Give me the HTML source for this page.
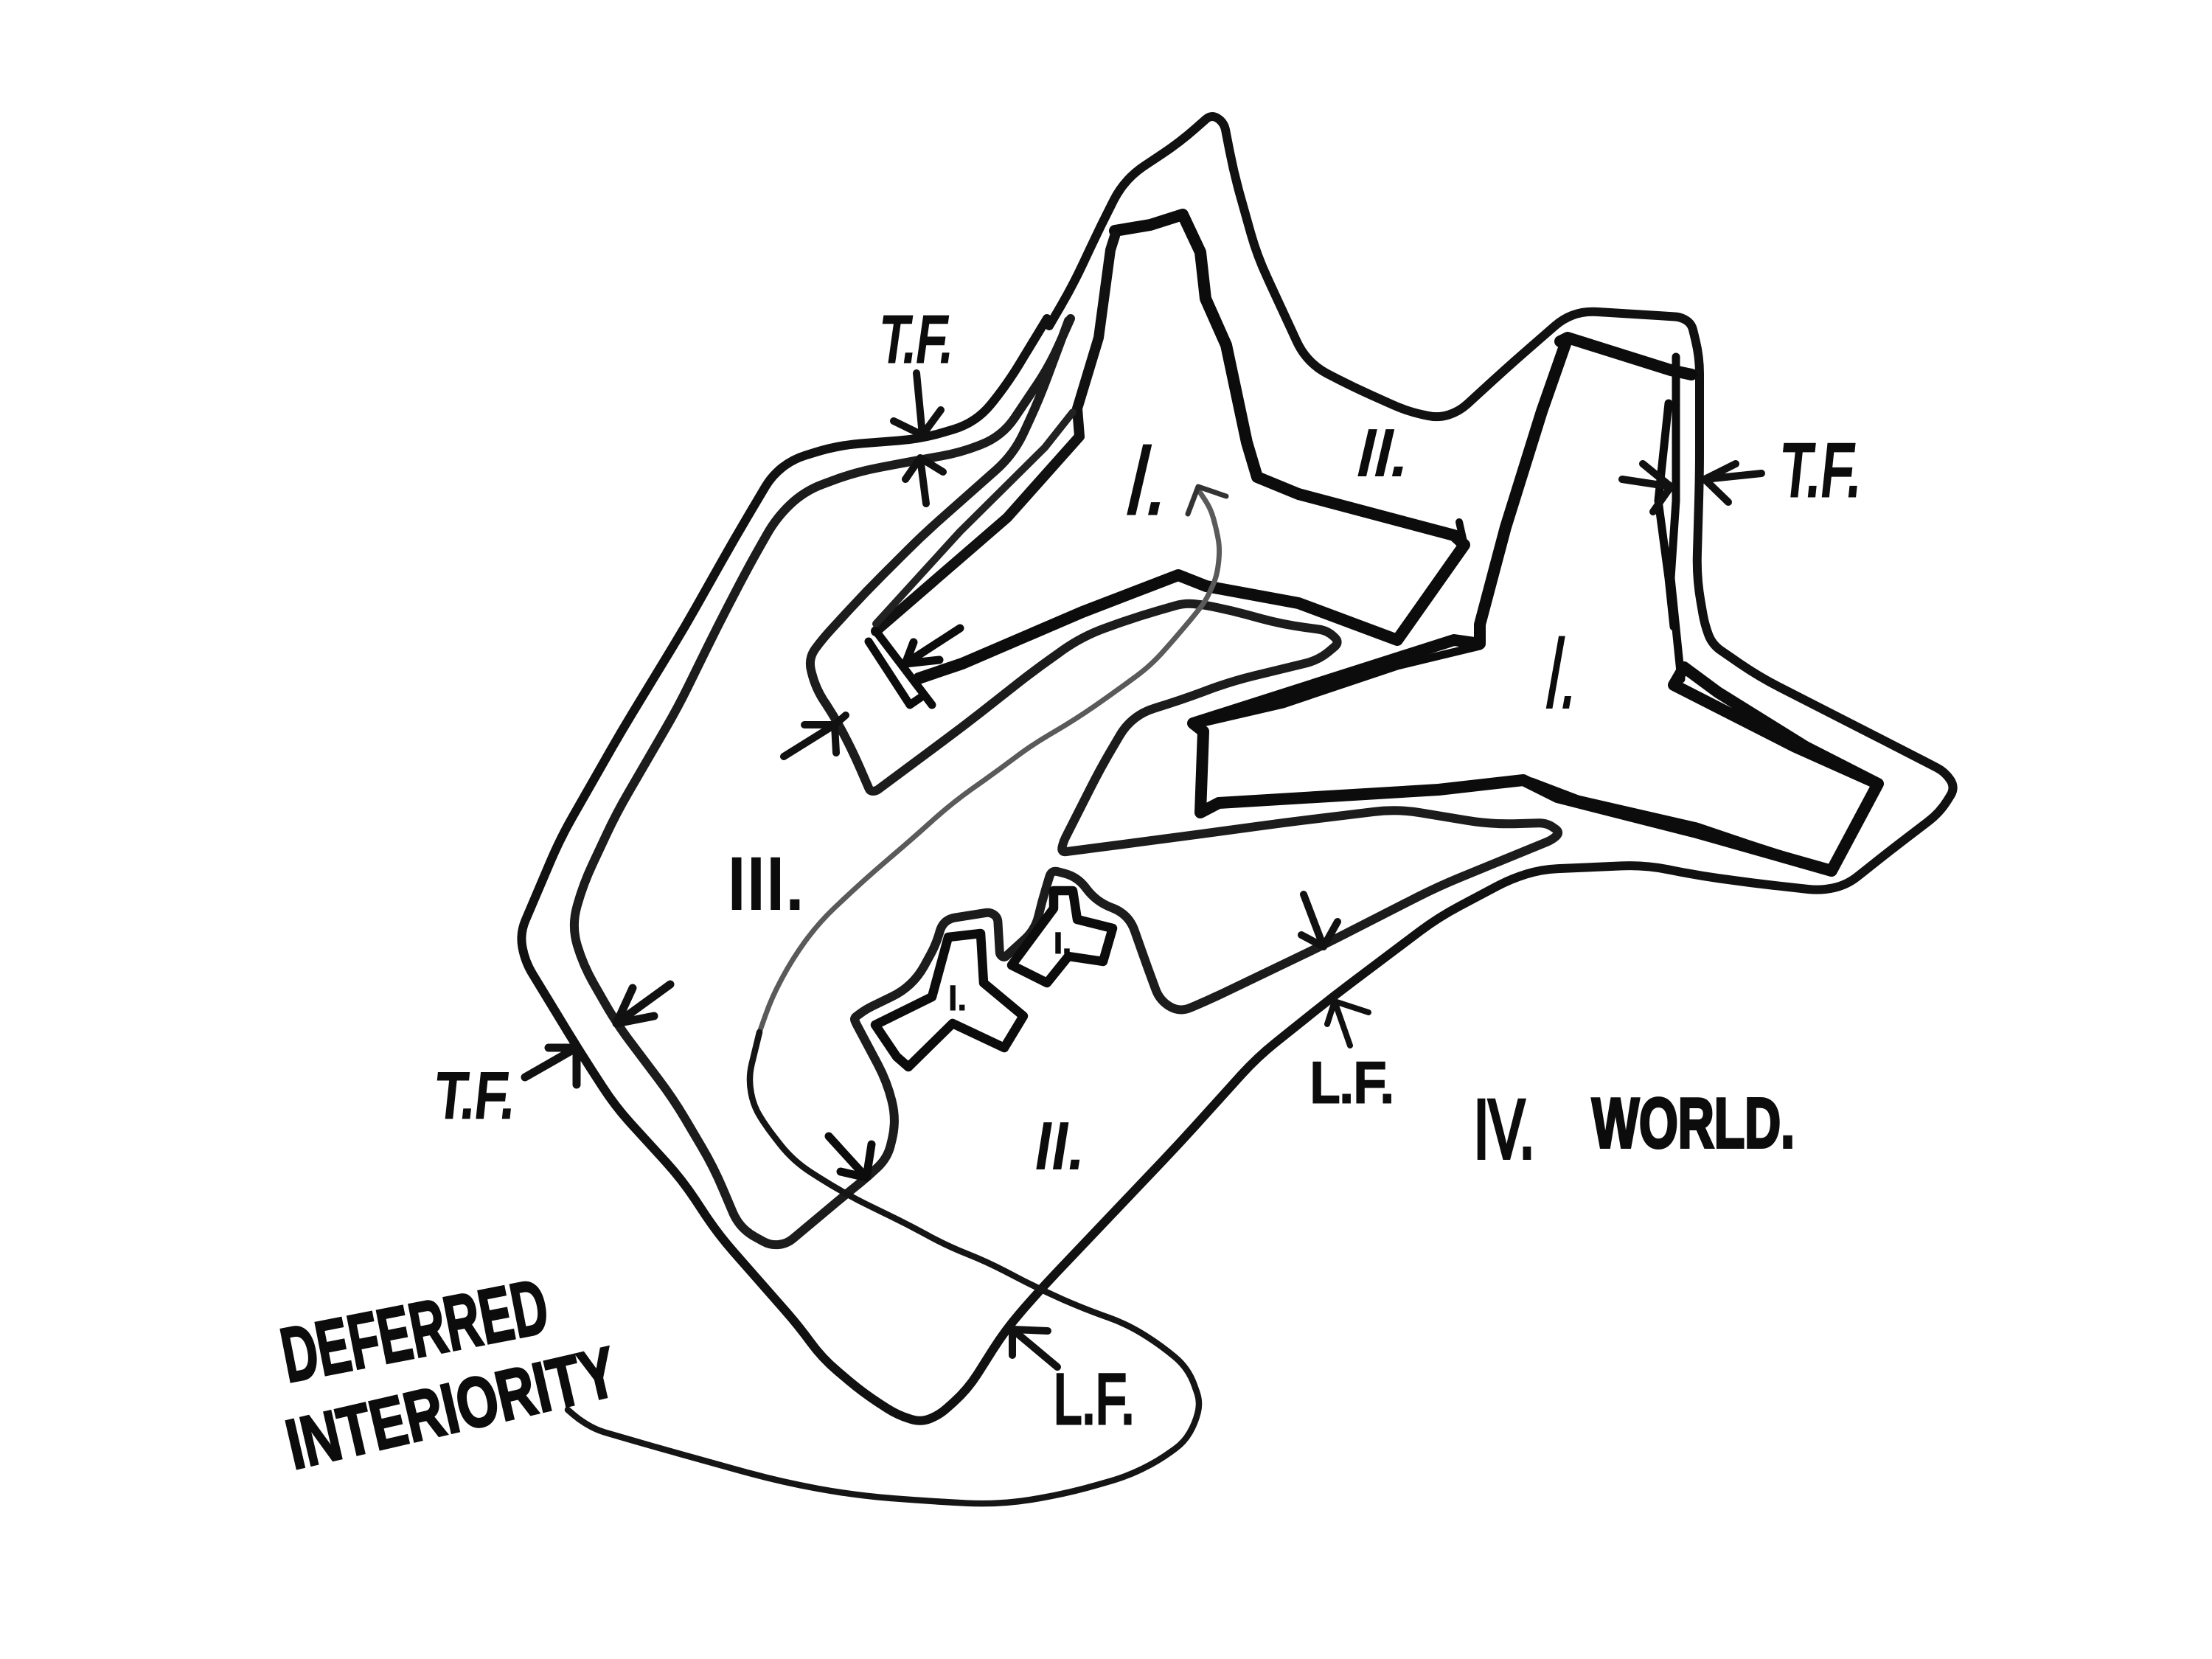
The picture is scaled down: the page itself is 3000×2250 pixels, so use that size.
<!DOCTYPE html>
<html lang="en">
<head>
<meta charset="utf-8">
<title>Deferred Interiority</title>
<style>
html,body{margin:0;padding:0;background:#fff;}
svg{display:block;}
path{fill:none;stroke-linejoin:round;stroke-linecap:round;}
text{font-family:"Liberation Sans",sans-serif;font-weight:400;fill:#0c0c0c;stroke:#0c0c0c;stroke-width:3px;}
text.b{font-weight:700;}
</style>
</head>
<body>
<svg xmlns="http://www.w3.org/2000/svg" width="3000" height="2250" viewBox="0 0 3000 2250">
<rect width="3000" height="2250" fill="#fff"/>

<!-- outer contour -->
<path class="s" stroke="#111" stroke-width="12" d="M1423,442 L1455,387 1493,306 1525,243 1600,193 1643,155 1660,166 1674,237 1705,347 1737,416 1772,492 1831,523 1909,558 1951,567 1979,558 2049,494 2133,421 2217,426 2280,430 2294,439 2305,484 2305,642 2301,784 2312,847 2322,874 2386,918 2582,1018 2638,1047 2652,1068 2631,1102 2568,1150 2505,1200 2470,1208 2372,1197 2301,1187 2231,1173 2091,1179 2049,1192 1951,1244 1810,1350 1705,1434 1600,1550 1411,1749 1364,1803 1312,1885 1274,1919 1249,1929 1217,1919 1172,1890 1115,1842 1083,1798 974,1674 925,1600 834,1500 785,1424 712,1304 705,1266 760,1137 842,993 929,850 996,731 1047,645 1075,623 1136,604 1251,595 1324,573 1366,521 1420,432"/>

<!-- second contour -->
<path class="s" stroke="#1c1c1c" stroke-width="12" d="M1452,432 L1423,497 1359,592 1302,614 1251,623 1161,640 1091,666 1053,702 1015,769 973,850 919,960 836,1103 791,1199 775,1256 791,1309 836,1388 913,1490 968,1583 1003,1666 1045,1689 1067,1687 1147,1620 1178,1595 1204,1570 1216,1519 1203,1467 1161,1388 1158,1381 1174,1369 1238,1338 1270,1280 1279,1247 1343,1237 1353,1244 1356,1295 1362,1299 1404,1261 1413,1223 1426,1180 1461,1189 1487,1223 1531,1240 1557,1314 1573,1357 1600,1373 1642,1355 1796,1281 1951,1202 2105,1139 2116,1129 2098,1116 2021,1118 1895,1097 1740,1116 1600,1135 1439,1156 1442,1142 1493,1041 1535,970 1600,950 1670,924 1789,895 1817,871 1800,855 1740,847 1670,828 1631,820 1606,818 1540,837 1468,863 1407,906 1305,986 1188,1073 1180,1073 1157,1020 1134,976 1106,933 1096,893 1116,866 1174,803 1251,726 1375,616 1410,540 1449,435"/>

<!-- inner shape I, top -->
<path stroke="#0c0c0c" stroke-width="16" d="M1512,313 L1560,305 1604,291 1628,342 1635,405 1663,468 1691,600 1705,647 1761,670 1972,726 1986,739 1895,868 1761,818 1636,795 1598,780 1468,830 1305,900 1246,920"/>
<path stroke="#0c0c0c" stroke-width="10" d="M1979,708 L1986,739"/>
<path stroke="#111" stroke-width="14" d="M1512,320 L1506,339 1490,458 1461,554 1464,592 1366,702 1188,856"/>
<path stroke="#222" stroke-width="10" d="M1455,559 L1417,607 1302,721 1188,846"/>
<path stroke="#0c0c0c" stroke-width="11" d="M1178,870 L1234,956 1250,945 M1188,856 L1264,956"/>

<!-- inner shape I, right -->
<path stroke="#0c0c0c" stroke-width="16" d="M2116,463 L2126,458 2266,502 2294,508 M2126,458 L2091,558 2042,715 2007,847 2007,873 1972,868 1618,981 1632,992 1628,1102 1653,1089 1951,1071 2066,1058 2112,1081 2301,1129 2484,1181 2547,1063 2449,1013 2330,939 2284,905 2270,929 2435,1013 2547,1063"/>
<path stroke="#0c0c0c" stroke-width="11" d="M1632,980 L1740,955 1895,903 2007,876 M2077,1060 L2140,1084 2301,1121 2372,1145 2484,1181 M2273,484 L2273,679 2266,784 2280,921 M2263,547 L2249,679 2263,784 2270,850"/>

<!-- small shapes -->
<path stroke="#0c0c0c" stroke-width="12.5" d="M1187,1390 L1264,1352 1286,1271 1330,1266 1334,1333 1340,1338 1388,1378 1362,1421 1292,1388 1232,1447 1216,1433 1187,1390"/>
<path stroke="#0c0c0c" stroke-width="12.5" d="M1429,1208 L1455,1208 1461,1247 1509,1259 1496,1304 1449,1297 1420,1333 1372,1309 1429,1232 1429,1208"/>

<!-- long thin curve -->
<path class="c" stroke="#5a5a5a" stroke-width="7" d="M1625,664 L1642,690 1649,715 1654,740 1653,763 1649,785 1635,815 1621,833 1590,870 1560,903 1510,940 1458,976 1400,1010 1356,1043 1290,1090 1238,1137 1170,1195 1110,1252 1075,1300 1047,1352 1030,1400"/>
<path class="c" stroke="#151515" stroke-width="8.5" d="M1030,1400 L1015,1462 1022,1500 1040,1529 1076,1575 1147,1620 1230,1660 1285,1690 1338,1711 1411,1749 1470,1775 1529,1796 1575,1825 1612,1856 1628,1902 1621,1930 1606,1956 1570,1982 1529,2002 1450,2025 1357,2041 1260,2036 1159,2028 1060,2010 955,1981 880,1960 808,1939 785,1925 770,1912"/>

<!-- arrows -->
<path stroke="#111" stroke-width="10" d="M1243,506 L1251,590 M1212,571 L1251,590 1276,556"/>
<path stroke="#111" stroke-width="10" d="M1256,683 L1248,621 M1228,650 L1248,621 1279,640"/>
<path stroke="#111" stroke-width="10" d="M2389,642 L2312,650 M2354,629 L2312,650 2344,681"/>
<path stroke="#111" stroke-width="10" d="M2200,650 L2266,660 M2228,629 L2266,660 2242,694"/>
<path stroke="#0c0c0c" stroke-width="11" d="M1302,852 L1228,900 M1239,871 L1228,900 1274,895"/>
<path stroke="#111" stroke-width="10" d="M1063,1026 L1132,983 M1091,983 L1132,983 1134,1021 M1132,983 L1147,970"/>
<path stroke="#111" stroke-width="11" d="M712,1461 L782,1421 M744,1421 L782,1421 782,1471"/>
<path stroke="#111" stroke-width="11" d="M909,1335 L836,1388 M858,1340 L836,1388 887,1378"/>
<path stroke="#0c0c0c" stroke-width="11" d="M1124,1541 L1175,1597 M1182,1552 L1175,1597 1140,1589"/>
<path stroke="#111" stroke-width="10" d="M1768,1213 L1795,1284 M1765,1268 L1795,1284 1814,1250"/>
<path stroke="#111" stroke-width="8" d="M1831,1418 L1810,1358 M1800,1389 L1810,1358 1856,1373"/>
<path stroke="#111" stroke-width="10" d="M1434,1854 L1373,1803 M1421,1805 L1373,1803 1373,1838"/>
<path stroke="#333" stroke-width="7" d="M1611,697 L1625,660 1663,673"/>

<!-- labels -->
<text transform="translate(1190,490) skewX(-8)" font-size="87" textLength="100" lengthAdjust="spacingAndGlyphs" style="stroke-width:5px">T.F.</text>
<text transform="translate(2412,672) skewX(-6)" font-size="100" textLength="110" lengthAdjust="spacingAndGlyphs" style="stroke-width:5px">T.F.</text>
<text transform="translate(588,1515) skewX(-6)" font-size="85" textLength="108" lengthAdjust="spacingAndGlyphs" style="stroke-width:5px">T.F.</text>
<text x="1777" y="1494" font-size="75" textLength="114" lengthAdjust="spacingAndGlyphs" style="stroke-width:5px">L.F.</text>
<text x="1429" y="1930" font-size="95" textLength="110" lengthAdjust="spacingAndGlyphs" style="stroke-width:5px">L.F.</text>
<text x="986" y="1232" font-size="97" textLength="105" lengthAdjust="spacingAndGlyphs" style="stroke-width:4px">III.</text>
<text transform="translate(1836,644) skewX(-13)" font-size="87" textLength="70" lengthAdjust="spacingAndGlyphs" style="stroke-width:4px">II.</text>
<text transform="translate(1400,1584) skewX(-9)" font-size="87" textLength="68" lengthAdjust="spacingAndGlyphs" style="stroke-width:4px">II.</text>
<text transform="translate(1520,697) skewX(-13)" font-size="135" textLength="58" lengthAdjust="spacingAndGlyphs" style="stroke-width:3px">I.</text>
<text transform="translate(2090,960) skewX(-10)" font-size="140" textLength="45" lengthAdjust="spacingAndGlyphs" style="stroke-width:2px">I.</text>
<text x="1286" y="1369" font-size="45" textLength="25" lengthAdjust="spacingAndGlyphs" style="stroke-width:3px">I.</text>
<text x="1429" y="1292" font-size="38" textLength="24" lengthAdjust="spacingAndGlyphs" style="stroke-width:3px">I.</text>
<text x="1999" y="1570" font-size="112" textLength="82" lengthAdjust="spacingAndGlyphs" style="stroke-width:6px">IV.</text>
<text class="b" x="2159" y="1556" font-size="96" textLength="275" lengthAdjust="spacingAndGlyphs" style="stroke-width:4px">WORLD.</text>
<text class="b" transform="translate(390,1875) rotate(-11)" font-size="105" textLength="365" lengthAdjust="spacingAndGlyphs" style="stroke-width:3px">DEFERRED</text>
<text class="b" transform="translate(398,1993) rotate(-13)" font-size="96" textLength="455" lengthAdjust="spacingAndGlyphs" style="stroke-width:3px">INTERIORITY</text>
</svg>
<script>
document.querySelectorAll('path.s,path.c').forEach(function(el){
  var R=el.classList.contains('c')?1e4:32;
  var n=el.getAttribute('d').match(/-?[\d.]+/g).map(Number),p=[];
  for(var i=0;i<n.length;i+=2)p.push([n[i],n[i+1]]);
  var s='M'+p[0][0]+','+p[0][1];
  for(var j=1;j<p.length-1;j++){
    var a=p[j-1],b=p[j],c=p[j+1];
    var ax=b[0]-a[0],ay=b[1]-a[1],bx=c[0]-b[0],by=c[1]-b[1];
    var la=Math.hypot(ax,ay),lb=Math.hypot(bx,by);
    var r=Math.min(R,la/2,lb/2);
    if((ax*bx+ay*by)/(la*lb)<0.2)r=Math.min(r,9);
    var x1=b[0]-ax/la*r,y1=b[1]-ay/la*r,x2=b[0]+bx/lb*r,y2=b[1]+by/lb*r;
    s+=' L'+x1.toFixed(1)+','+y1.toFixed(1)+' Q'+b[0]+','+b[1]+' '+x2.toFixed(1)+','+y2.toFixed(1);
  }
  var e=p[p.length-1];
  el.setAttribute('d',s+' L'+e[0]+','+e[1]);
});
</script>
</body>
</html>
